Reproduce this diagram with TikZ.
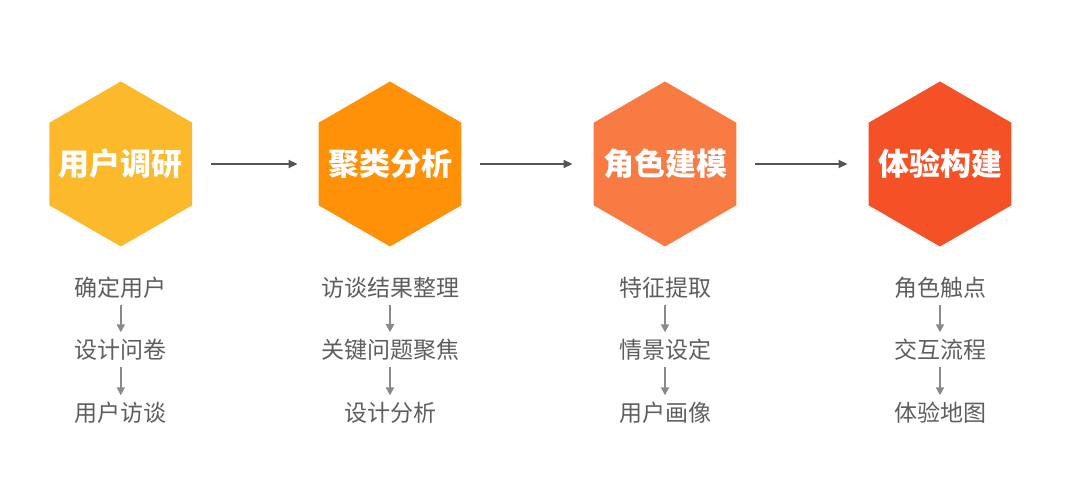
\documentclass[tikz,border=0pt]{standalone}
\usepackage{fontspec}
\newfontfamily\cjk{Noto Sans CJK SC}
\usetikzlibrary{shapes.geometric,arrows.meta}
\definecolor{cA}{HTML}{FCB92C}
\definecolor{cB}{HTML}{FF9108}
\definecolor{cC}{HTML}{F77B42}
\definecolor{cD}{HTML}{F55127}
\definecolor{subtxt}{HTML}{5E5E5E}
\definecolor{subarr}{HTML}{8A8A8A}
\definecolor{mainarr}{HTML}{555555}
\tikzset{
  hexbox/.style={regular polygon, regular polygon sides=6, shape border rotate=90,
    minimum size=165pt, inner sep=0pt, outer sep=0pt},
  hexlabel/.style={inner sep=0pt, outer sep=0pt, text=white,
    font=\cjk\bfseries\fontsize{31pt}{31pt}\selectfont},
  sublabel/.style={inner sep=0pt, outer sep=0pt, text=subtxt,
    font=\cjk\fontsize{23pt}{23pt}\selectfont},
  mainarrow/.style={draw=mainarr, line width=1.8pt, -{Triangle[length=9pt,width=8pt]},
    shorten <=19pt, shorten >=21pt},
  subarrow/.style={draw=subarr, line width=1.8pt, -{Triangle[length=8pt,width=8pt]},
    shorten <=6pt, shorten >=7pt}
}
\begin{document}
\begin{tikzpicture}[x=1pt,y=-1pt]
\useasboundingbox[fill=white] (0,0) rectangle (1080,478);
% hexagons
\node[hexbox, fill=cA, label={[hexlabel]center:用户调研}] (h1) at (120.8,164) {};
\node[hexbox, fill=cB, label={[hexlabel]center:聚类分析}] (h2) at (390,164) {};
\node[hexbox, fill=cC, label={[hexlabel]center:角色建模}] (h3) at (665,164) {};
\node[hexbox, fill=cD, label={[hexlabel]center:体验构建}] (h4) at (940,164) {};
\draw[mainarrow] (h1) -- (h2);
\draw[mainarrow] (h2) -- (h3);
\draw[mainarrow] (h3) -- (h4);
% column 1
\node[sublabel] (a1) at (120.8,288) {确定用户};
\node[sublabel] (a2) at (120.8,350) {设计问卷};
\node[sublabel] (a3) at (120.8,413) {用户访谈};
% column 2
\node[sublabel] (b1) at (390,288) {访谈结果整理};
\node[sublabel] (b2) at (390,350) {关键问题聚焦};
\node[sublabel] (b3) at (390,413) {设计分析};
% column 3
\node[sublabel] (c1) at (665,288) {特征提取};
\node[sublabel] (c2) at (665,350) {情景设定};
\node[sublabel] (c3) at (665,413) {用户画像};
% column 4
\node[sublabel] (d1) at (940,288) {角色触点};
\node[sublabel] (d2) at (940,350) {交互流程};
\node[sublabel] (d3) at (940,413) {体验地图};
\foreach \c in {a,b,c,d}{
  \draw[subarrow] (\c1) -- (\c2);
  \draw[subarrow] (\c2) -- (\c3);
}
\end{tikzpicture}
\end{document}
